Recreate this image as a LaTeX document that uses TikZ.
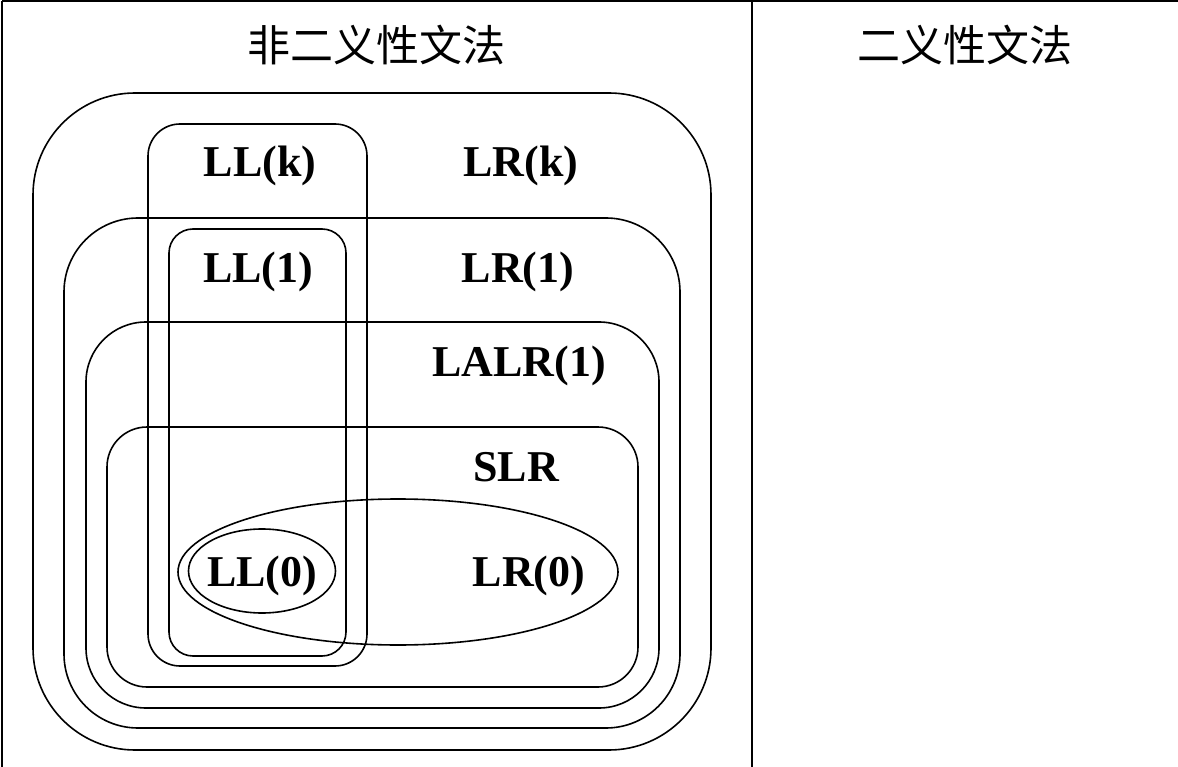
\documentclass[tikz,border=0pt]{standalone}
\usepackage{fontspec}
\setmainfont{Liberation Serif}
\newfontfamily\cjk{Noto Sans CJK SC}
\usetikzlibrary{shapes.geometric}
\begin{document}
\begin{tikzpicture}[x=1pt,y=-1pt,
  frameline/.style={line width=2.6pt},
  setbox/.style={draw, line width=1.6pt, anchor=north west, inner sep=0pt, outer sep=0pt},
  setell/.style={draw, ellipse, line width=1.6pt, inner sep=0pt, outer sep=0pt},
  lab/.style={font=\fontsize{44}{50}\selectfont\bfseries, inner sep=0pt},
  title/.style={font=\cjk\fontsize{43}{50}\selectfont, inner sep=0pt}]
\useasboundingbox (0,0) rectangle (1178,767);
% frame
\coordinate (tl) at (2,1);
\coordinate (tr) at (1178,1);
\coordinate (bl) at (2,767);
\coordinate (dt) at (752,1);
\coordinate (db) at (752,767);
\draw[frameline] (tl) -- (tr);
\draw[frameline] (tl) -- (bl);
\draw[frameline] (dt) -- (db);
\node[title] (t1) at (376,45) {非二义性文法};
\node[title] (t2) at (965,45) {二义性文法};
% nested sets
\node[setbox, rounded corners=102pt, minimum width=678pt, minimum height=657pt] (lrk) at (33,93) {};
\node[setbox, rounded corners=74pt, minimum width=616pt, minimum height=510pt] (lr1) at (64,218) {};
\node[setbox, rounded corners=60pt, minimum width=573pt, minimum height=386pt] (lalr) at (86,322) {};
\node[setbox, rounded corners=40pt, minimum width=531pt, minimum height=260pt] (slr) at (107,427) {};
\node[setbox, rounded corners=32pt, minimum width=219pt, minimum height=542pt] (llk) at (148,124) {};
\node[setbox, rounded corners=24pt, minimum width=177pt, minimum height=427pt] (ll1) at (169,229) {};
\node[setell, minimum width=440pt, minimum height=146pt] (lr0) at (398,572) {};
\node[setell, minimum width=147pt, minimum height=84pt] (ll0) at (262,571) {};
% labels
\node[lab] (llkl) at (260,166) {LL(k)};
\node[lab] (lrkl) at (521,166) {LR(k)};
\node[lab] (ll1l) at (258,272) {LL(1)};
\node[lab] (lr1l) at (518,272) {LR(1)};
\node[lab] (lalrl) at (519,366) {LALR(1)};
\node[lab] (slrl) at (516,467) {SLR};
\node[lab] (ll0l) at (262,576) {LL(0)};
\node[lab] (lr0l) at (529,576) {LR(0)};
\end{tikzpicture}
\end{document}
